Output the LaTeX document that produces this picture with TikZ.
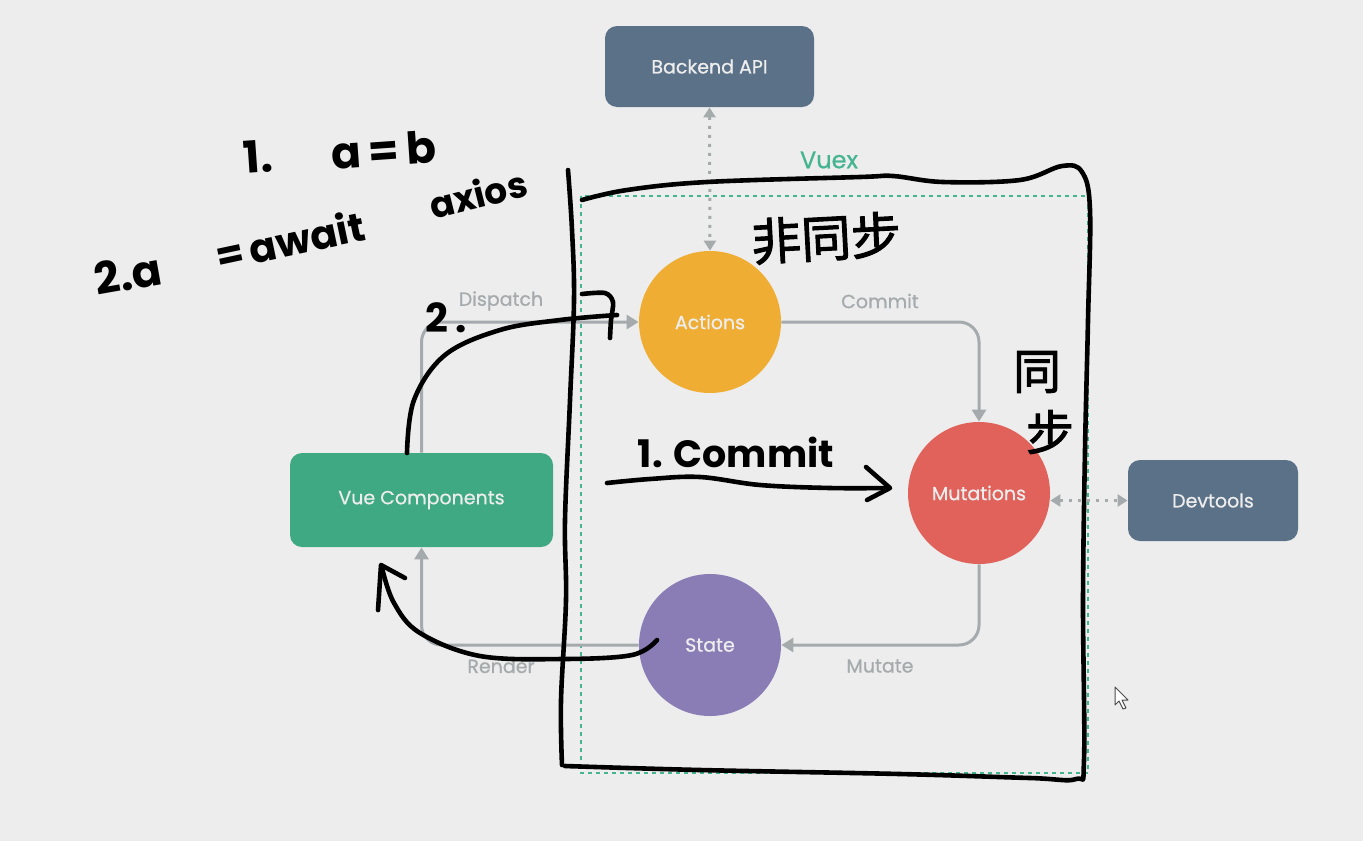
\documentclass[tikz,border=0pt]{standalone}
\usepackage{fontspec}
\setmainfont{Poppins}
\newfontfamily\labelfont{Poppins}[FakeBold=0.7]
\newfontfamily\cjk{Noto Sans CJK TC}[FakeBold=2]
\usetikzlibrary{arrows.meta}

\definecolor{bg}{HTML}{EDEDED}
\definecolor{slate}{HTML}{5B7188}
\definecolor{vuegreen}{HTML}{3FA983}
\definecolor{vxorange}{HTML}{F0AD33}
\definecolor{vxred}{HTML}{E0625A}
\definecolor{vxpurple}{HTML}{8A7DB6}
\definecolor{flowgray}{HTML}{A5AAAD}
\definecolor{vuexgreen}{HTML}{45B591}

\tikzset{
  box/.style={rounded corners=6pt, inner sep=0pt, text=white!93!black,
    font=\labelfont\fontsize{9.5}{11}\selectfont},
  bubble/.style={circle, minimum size=71pt, inner sep=0pt, text=white!93!black,
    font=\labelfont\fontsize{9.5}{11}\selectfont},
  flow/.style={draw=flowgray, line width=1.5pt, rounded corners=10pt,
    -{Triangle[length=6pt,width=7pt]}},
  link/.style={draw=flowgray, line width=1.5pt, dash pattern=on 1.5pt off 3pt,
    {Triangle[length=5pt,width=6pt]}-{Triangle[length=5pt,width=6pt]}},
  flowlabel/.style={text=flowgray, font=\labelfont\fontsize{9.5}{11}\selectfont},
  ink/.style={line width=2.3pt, line cap=round, line join=round},
  scrawl/.style={inner sep=0pt, font=\bfseries\fontsize{#1}{#1}\selectfont},
  scrawl/.default=20,
}

\begin{document}
\begin{tikzpicture}[x=0.5pt,y=-0.5pt]
  \useasboundingbox (0,0) rectangle (1363,841);
  \fill[bg] (0,0) rectangle (1363,841);

  % store frame
  \draw[vuexgreen, line width=1.3pt, dash pattern=on 2pt off 2pt] (581,196) rectangle (1088,773);
  \node[text=vuexgreen, font=\labelfont\fontsize{12}{14}\selectfont] (vuex) at (829,160) {Vuex};

  \node[box, fill=slate, minimum width=104.5pt, minimum height=40.5pt] (api) at (709.5,66.5) {Backend API};
  \node[box, fill=vuegreen, minimum width=131.5pt, minimum height=47pt] (vue) at (421.5,500) {Vue Components};
  \node[box, fill=slate, minimum width=85pt, minimum height=40.5pt] (dev) at (1213,500.5) {Devtools};

  \foreach \n/\t/\c/\px/\py in {act/Actions/vxorange/710/322,
    mut/Mutations/vxred/979/493, st/State/vxpurple/710/645}
    \node[bubble, fill=\c] (\n) at (\px,\py) {\t};

  \draw[flow] (vue.north) |- (act.west);
  \draw[flow] (act.east) -| (mut.north);
  \draw[flow] (mut.south) |- (st.east);
  \draw[flow] (st.west) -| (vue.south);

  \foreach \t/\px/\py in {Dispatch/501/301, Commit/880/301, Mutate/880/666, Render/501/666}
    \node[flowlabel] (l\t) at (\px,\py) {\t};

  \draw[link] (api.south) -- (act.north);
  \draw[link] (mut.east |- dev.west) -- (dev.west);

  % hand-drawn notes
  \draw[ink] plot[smooth, tension=0.6] coordinates {(568,170) (572,230) (574,300)
    (570,400) (565,520) (566,600) (561,700) (562,765)};
  \draw[ink] plot[smooth, tension=0.6] coordinates {(582,200) (627,190) (707,182)
    (860,177) (893,176) (943,182) (1020,180) (1062,166) (1082,172) (1090,210)
    (1088,320) (1085,450) (1083,600) (1084,760) (1076,779) (1030,778) (900,774)
    (700,770) (565,766)};

  \draw[ink] plot[smooth, tension=0.6] coordinates {(407,453) (414,400) (445,355)
    (500,330) (560,320) (617,315)};
  \draw[ink] plot[smooth, tension=0.5] coordinates {(582,294) (605,293) (613,302)
    (611,320) (610,338)};

  \draw[ink] plot[smooth, tension=0.6] coordinates {(657,640) (632,655) (563,659)
    (480,656) (420,633) (394,603) (382,568)};
  \draw[ink] (378,610) -- (381,565) -- (405,578);

  \draw[ink] plot[smooth, tension=0.6] coordinates {(607,483) (650,479) (700,477)
    (760,485) (830,488) (888,488)};
  \draw[ink] (866,467) -- (890,488) -- (867,500);

  \node[scrawl=19] (commitnote) at (736,452) {1. Commit};
  \node[scrawl=20] (twonote) at (446,318) {2\,.};
  \node[scrawl=22, rotate=4] (onenum) at (258,157) {1.};
  \node[scrawl=22, rotate=4] (onenote) at (384,150) {a\,=\,b};
  \node[scrawl=22, rotate=10] (twonum) at (128,274) {2.a};
  \node[scrawl=20, rotate=12] (twoawait) at (290,240) {=\,await};
  \node[scrawl=18, rotate=14] (twoaxios) at (478,194) {axios};

  \node[inner sep=0pt, rotate=3, font=\cjk\fontsize{25}{25}\selectfont] (async) at (826,238) {非同步};
  \node[inner sep=0pt, font=\cjk\fontsize{24}{24}\selectfont] (syncA) at (1037,372) {同};
  \node[inner sep=0pt, font=\cjk\fontsize{24}{24}\selectfont] (syncB) at (1050,432) {步};

  % mouse pointer
  \draw[black!70, fill=white, line width=0.5pt, line join=round] (1115,687) -- (1115,705)
    -- (1119,701) -- (1123,709) -- (1126,708) -- (1122,700) -- (1128,700) -- cycle;
\end{tikzpicture}
\end{document}
